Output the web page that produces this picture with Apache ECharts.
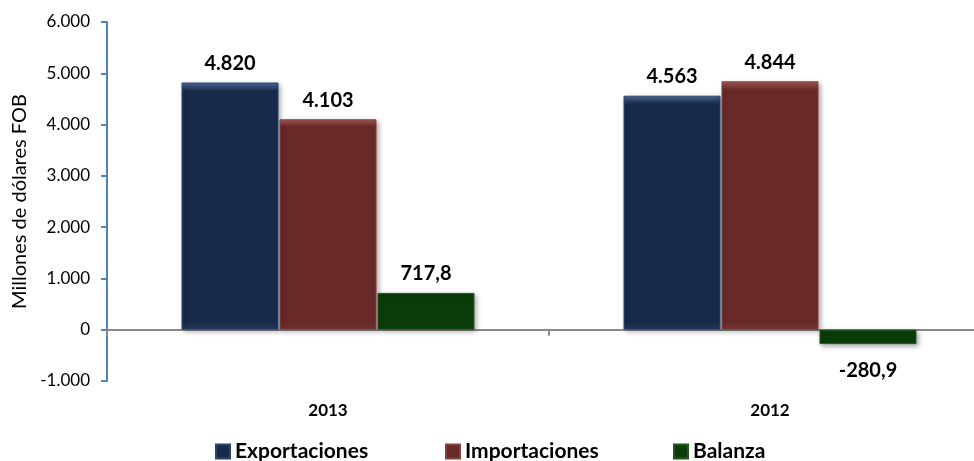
<!DOCTYPE html>
<html>
<head>
<meta charset="utf-8">
<script src="https://cdn.jsdelivr.net/npm/echarts@6/dist/echarts.min.js"></script>
<style>
html,body{margin:0;padding:0;background:#fff;}
#chart{width:974px;height:461px;}
</style>
</head>
<body>
<div id="chart"></div>
<script>
const categories = ['2013', '2012'];
const seriesNames = ['Exportaciones', 'Importaciones', 'Balanza'];
const exportaciones = [4820, 4563];
const importaciones = [4103, 4844];
const balanza = [717.8, -280.9];
const yMin = -1000, yMax = 6000, yInterval = 1000;

function fmtInt(v) {
  return Math.round(v).toString().replace(/\B(?=(\d{3})+(?!\d))/g, '.');
}
function fmtDec(v) {
  return v.toFixed(1).replace('.', ',');
}
function bevel(light, base, edge) {
  return new echarts.graphic.LinearGradient(0, 0, 0, 1, [
    {offset: 0, color: light},
    {offset: 0.035, color: base},
    {offset: 0.97, color: base},
    {offset: 1, color: edge}
  ]);
}
const colors = [
  bevel('#4e6d9c', '#172a4a', '#243a60'),
  bevel('#a65d58', '#682927', '#7a3633'),
  bevel('#4f8a4c', '#0a3d0a', '#1a501a')
];
const borderColors = ['#2c4470', '#834240', '#235823'];
const fontFam = 'Lato, "Noto Sans", sans-serif';

const barCommon = {
  type: 'bar',
  barWidth: 97,
  barGap: '1%',
  xAxisIndex: 0,
  itemStyle: {
    borderWidth: 1,
    shadowBlur: 5,
    shadowOffsetX: 2,
    shadowOffsetY: 2,
    shadowColor: 'rgba(0,0,0,0.35)'
  },
  label: {
    show: true,
    position: 'top',
    distance: 9,
    color: '#000',
    fontFamily: fontFam,
    fontWeight: 'bold',
    fontSize: 20
  }
};

function mkSeries(name, values, color, border, fmt) {
  return Object.assign({}, barCommon, {
    name: name,
    itemStyle: Object.assign({}, barCommon.itemStyle, {color: color, borderColor: border}),
    label: Object.assign({}, barCommon.label, {
      formatter: p => fmt(p.value)
    }),
    data: values.map(v => v < 0
      ? {value: v, label: {position: 'bottom', distance: 16}}
      : v)
  });
}

const chart = echarts.init(document.getElementById('chart'));
const legendBase = {
  top: 436,
  itemWidth: 14,
  itemHeight: 14,
  itemGap: 10,
  icon: 'rect',
  textStyle: {fontFamily: fontFam, fontWeight: 'bold', fontSize: 21, color: '#000'}
};
chart.setOption({
  animation: false,
  backgroundColor: '#fff',
  grid: {left: 107, right: -17, top: 22, bottom: 80, containLabel: false, outerBoundsMode: 'none'},
  legend: [
    Object.assign({}, legendBase, {left: 210, data: [seriesNames[0]]}),
    Object.assign({}, legendBase, {left: 440, data: [seriesNames[1]]}),
    Object.assign({}, legendBase, {left: 668, data: [seriesNames[2]]})
  ],
  xAxis: [
    {
      type: 'category',
      data: categories,
      position: 'bottom',
      axisLine: {onZero: true, lineStyle: {color: '#8a8a8a', width: 2}},
      axisTick: {show: true, length: 6, lineStyle: {color: '#8a8a8a', width: 2}},
      axisLabel: {show: false},
      splitLine: {show: false}
    },
    {
      type: 'category',
      data: categories,
      position: 'bottom',
      axisLine: {show: false, onZero: false},
      axisTick: {show: false},
      axisLabel: {
        show: true,
        margin: 21,
        fontFamily: fontFam,
        fontWeight: 'bold',
        fontSize: 17,
        color: '#000'
      },
      splitLine: {show: false}
    }
  ],
  yAxis: {
    type: 'value',
    min: yMin,
    max: yMax,
    interval: yInterval,
    name: 'Millones de dólares FOB',
    nameLocation: 'middle',
    nameGap: 72,
    nameRotate: 90,
    nameTextStyle: {fontFamily: fontFam, fontSize: 20, color: '#000'},
    axisLine: {show: true, lineStyle: {color: '#4f81bd', width: 2}},
    axisTick: {show: true, length: 6, inside: false, lineStyle: {color: '#4f81bd', width: 2}},
    axisLabel: {
      margin: 17,
      fontFamily: fontFam,
      fontSize: 17,
      color: '#000',
      formatter: v => fmtInt(v)
    },
    splitLine: {show: false}
  },
  series: [
    mkSeries(seriesNames[0], exportaciones, colors[0], borderColors[0], fmtInt),
    mkSeries(seriesNames[1], importaciones, colors[1], borderColors[1], fmtInt),
    mkSeries(seriesNames[2], balanza, colors[2], borderColors[2], fmtDec)
  ]
});
</script>
</body>
</html>
